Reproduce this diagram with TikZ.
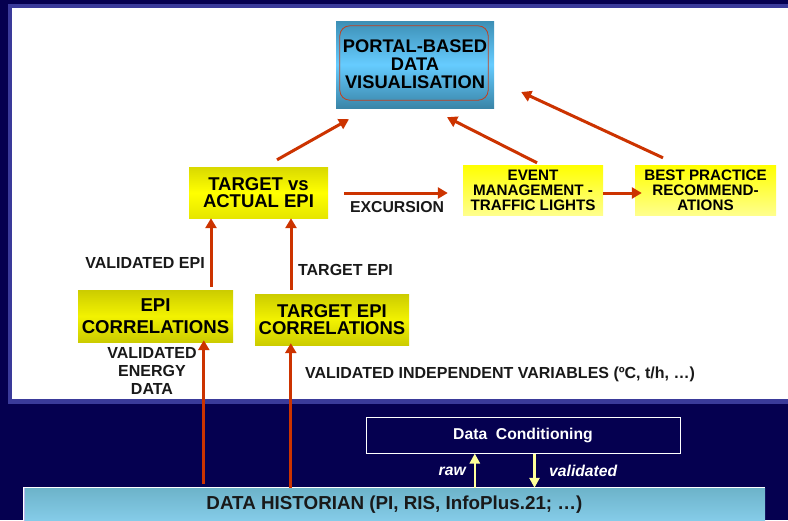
\documentclass[tikz,border=0pt]{standalone}
\usepackage{fontspec}
\setmainfont{Liberation Sans}
\usetikzlibrary{arrows.meta,calc}
\definecolor{navy}{HTML}{050050}
\definecolor{rim}{HTML}{3A3A9A}
\definecolor{redarr}{HTML}{CC3300}
\definecolor{paleyel}{HTML}{FFFF99}
\definecolor{ptop}{HTML}{3D8FB5}
\definecolor{pbot}{HTML}{3A85A8}
\definecolor{pmid}{HTML}{66CCFF}
\definecolor{pline}{HTML}{C04020}
\definecolor{dhtop}{HTML}{6DB3C9}
\definecolor{dhbot}{HTML}{86CDEA}
\definecolor{dhedge}{HTML}{B8B8F0}
\tikzset{
  ybox/.style={inner sep=0pt, align=center, text=black},
  yboxA/.style={ybox, top color=yellow!85!black, bottom color=yellow!90!black, middle color=yellow},
  yboxC/.style={ybox, top color=yellow!80!black, bottom color=yellow!80!black, middle color=yellow!95!black},
  yboxB/.style={ybox, top color=yellow, bottom color=yellow!45!white},
  redarrow/.style={draw=redarr, line width=3pt, -{Triangle[length=10pt,width=11pt]}},
  yelarrow/.style={draw=paleyel, line width=2.5pt, -{Triangle[length=10pt,width=10pt]}},
  lbl/.style={inner sep=0pt, align=center, text=black!90, font=\fontsize{16}{18}\selectfont\bfseries},
  wlbl/.style={inner sep=0pt, text=white, font=\fontsize{15.7}{18}\selectfont\bfseries\itshape},
}
\begin{document}
\begin{tikzpicture}[x=1pt,y=-1pt]
\useasboundingbox (0,0) rectangle (788,520);
\fill[navy] (0,0) rectangle (788,520);
\fill[rim] (8,4) rectangle (788,404);
\fill[white] (12,8) rectangle (788,399);

% top box
\node[ybox, minimum width=158pt, minimum height=87pt, top color=ptop, bottom color=pbot, middle color=pmid,
      font=\fontsize{18.3}{18}\selectfont\bfseries] (portal) at (415,64.5) {PORTAL-BASED\\DATA\\VISUALISATION};
\draw[pline, line width=0.8pt, rounded corners=10pt] ($(portal.north west)+(4,5)$) rectangle ($(portal.south east)+(-6,-8)$);

% yellow boxes
\node[yboxA, minimum width=139pt, minimum height=51pt, font=\fontsize{18.5}{17}\selectfont\bfseries] (tva) at (258.5,192.5) {TARGET vs\\ACTUAL EPI};
\node[yboxB, minimum width=140pt, minimum height=50pt, font=\fontsize{15.2}{15}\selectfont\bfseries] (event) at (533,190) {EVENT\\MANAGEMENT -\\TRAFFIC LIGHTS};
\node[yboxB, minimum width=141pt, minimum height=50pt, font=\fontsize{15.2}{15}\selectfont\bfseries] (best) at (705.5,190) {BEST PRACTICE\\RECOMMEND-\\ATIONS};
\node[yboxC, minimum width=155pt, minimum height=52pt, font=\fontsize{18.6}{20}\selectfont\bfseries] (epic) at (155.5,316) {\raisebox{2pt}{EPI}\\CORRELATIONS};
\node[yboxC, minimum width=154pt, minimum height=51pt, font=\fontsize{18.5}{17}\selectfont\bfseries] (tepic) at (332,319.5) {TARGET EPI\\CORRELATIONS};

% bottom area
\node[draw=white, line width=1pt, minimum width=314pt, minimum height=36pt, inner sep=0pt, text=white,
      font=\fontsize{15.7}{18}\selectfont\bfseries] (dc) at (523,435) {Data\ \ Conditioning};
\node[minimum width=741pt, minimum height=34pt, inner sep=0pt, top color=dhtop, bottom color=dhbot,
      font=\fontsize{18.8}{18}\selectfont\bfseries, text=black!90] (dh) at (394.5,505) {DATA HISTORIAN (PI, RIS, InfoPlus.21; …)};
\draw[white, line width=1pt] (dh.south west) -- (dh.north west) -- (dh.north east);
\draw[dhedge, line width=1.5pt] ($(dh.north west)+(0.75,0)$) -- ($(dh.south west)+(0.75,0)$);

% labels
\node[lbl] (lvepi) at (145,263) {VALIDATED EPI};
\node[lbl] (ltepi) at (345.5,270) {TARGET EPI};
\node[lbl, font=\fontsize{15.8}{18}\selectfont\bfseries] (lexc) at (397,207) {EXCURSION};
\node[lbl] (lved) at (152,371) {VALIDATED\\ENERGY\\DATA};
\node[lbl] (lviv) at (500,374) {VALIDATED INDEPENDENT VARIABLES (ºC, t/h, …)};
\node[wlbl, anchor=east] (lraw) at (466,471) {raw};
\node[wlbl, anchor=west] (lval) at (549,471) {validated};

% red connectors
\draw[redarrow] ($(tva.north)+(18.5,-7)$) -- ($(portal.south)+(-66,11)$);
\draw[redarrow] ($(event.north)+(4,-2)$) -- ($(portal.south)+(32,9)$);
\draw[redarrow] ($(best.north)+(-42.5,-7)$) -- ($(portal.east)+(27,27.5)$);
\coordinate (x1) at ($(tva.east)+(16,0.5)$);
\draw[redarrow] (x1) -- ($(x1 -| event.west)+(-15,0)$);
\coordinate (x2) at ($(event.east)+(0,3)$);
\draw[redarrow, shorten >=-7pt] (x2) -- (x2 -| best.west);
\coordinate (e1) at ($(epic.north)+(55.5,-3)$);
\draw[redarrow] (e1) -- (e1 |- tva.south);
\coordinate (t1) at ($(tepic.north)+(-41,-4)$);
\draw[redarrow] (t1) -- (t1 |- tva.south);
\coordinate (d1) at ($(dh.north west)+(180,-4)$);
\draw[redarrow, shorten >=-2pt] (d1) -- (d1 |- epic.south);
\coordinate (d2) at ($(dh.north west)+(267,0)$);
\draw[redarrow, shorten >=-2pt] (d2) -- (d2 |- tepic.south);

% yellow connectors
\coordinate (r1) at ($(dh.north west)+(451,0)$);
\draw[yelarrow] (r1) -- (r1 |- dc.south);
\coordinate (v1) at ($(dc.south west)+(169,0)$);
\draw[yelarrow] (v1) -- (v1 |- dh.north);
\end{tikzpicture}
\end{document}
